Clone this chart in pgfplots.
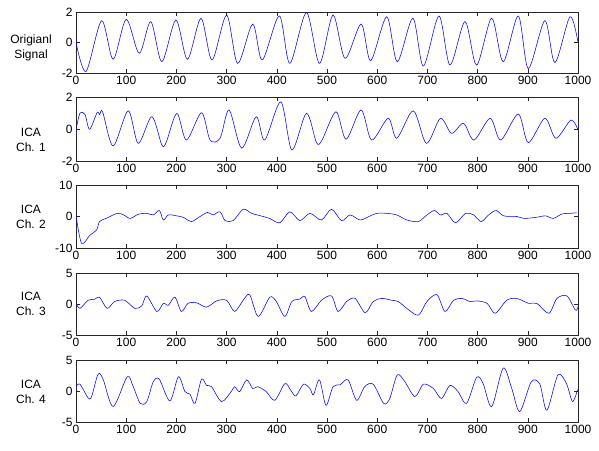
\documentclass[border=0pt]{standalone}
\usepackage{pgfplots}
\pgfplotsset{compat=1.18}
\usepackage{fontspec}
\setmainfont{Liberation Sans}
\definecolor{sig}{RGB}{105,105,235}
\pgfplotsset{
  panel/.style={
    scale only axis, width=502pt,
    xmin=0, xmax=1000, xtick={0,100,...,1000},
    scaled ticks=false,
    /pgf/number format/1000 sep={},
    /pgf/number format/assume math mode=true,
    tick label style={font=\fontsize{12}{12}\selectfont},
    axis line style={black!85}, major tick length=4pt,
    every tick/.style={black!85},
    every axis y label/.style={at={(rel axis cs:0,0.5)}, anchor=center, align=center, xshift=-45pt, font=\fontsize{12}{15}\selectfont},
    every axis plot/.append style={sig, line width=0.55pt, smooth, no marks},
  }
}
\begin{document}
\begin{tikzpicture}
\useasboundingbox (0pt,0pt) rectangle (599pt,-450pt);
% Panel 1
\begin{axis}[panel, at={(76pt,-73pt)}, anchor=south west, height=61pt,
  ymin=-2, ymax=2, ytick={-2,0,2}, ylabel={Origianl\\Signal}, ylabel style={yshift=-5pt}]
\addplot coordinates {(0,0) (20,-1.9) (51,1.43) (74,-1.1) (100,1.52) (126,-0.71) (149,1.37) (171,-1.26) (199,1.48) (222,-1.1) (249,1.59) (271,-1.15) (300,1.8) (322,-1.37) (352,1.21) (371,-1.15) (405,1.74) (426,-1.37) (459,1.96) (485,-1.37) (512,1.8) (536,-1.04) (568,1.21) (587,-1.19) (619,1.69) (640,-1.26) (671,1.59) (692,-1.54) (723,1.74) (745,-1.48) (775,1.37) (798,-1.48) (828,1.59) (851,-1.26) (881,1.74) (901,-1.7) (934,1.43) (954,-1.32) (984,1.69) (1000,0)};
\end{axis}
% Panel 2
\begin{axis}[panel, at={(76pt,-161pt)}, anchor=south west, height=64pt,
  ymin=-2, ymax=2, ytick={-2,0,2}, ylabel={ICA\\Ch. 1}, ylabel style={yshift=-11pt}]
\addplot coordinates {(0,-0.06) (8,1.0) (18,0.9) (27,-0.02) (42,1.02) (47,0.9) (53,1.08) (74,-1.06) (104,1.14) (124,-0.9) (151,0.77) (171,-1.0) (180,-0.8) (201,0.98) (220,-0.69) (250,1.02) (267,-0.69) (287,-0.58) (305,1.19) (330,-1.2) (359,0.77) (376,-0.69) (408,1.7) (430,-1.31) (459,0.98) (479,-0.85) (490,-0.7) (518,1.08) (538,-0.64) (568,1.19) (589,-0.69) (622,0.67) (639,-0.58) (672,1.14) (698,-0.9) (726,0.67) (748,-0.27) (772,0.35) (793,-0.69) (825,0.67) (846,-0.69) (881,0.94) (901,-0.85) (934,0.67) (956,-0.58) (986,0.56) (1000,-0.06)};
\end{axis}
% Panel 3
\begin{axis}[panel, at={(76pt,-248pt)}, anchor=south west, height=63pt,
  ymin=-10, ymax=10, ytick={-10,0,10}, ylabel={ICA\\Ch. 2}]
\addplot coordinates {(0,0.5) (11,-8.5) (28,-5.9) (41,-4.3) (47,-1.6) (60,-0.6) (82,1.0) (95,0.5) (108,-0.6) (124,0.7) (141,1.0) (154,0.5) (166,1.9) (174,-1.1) (184,0.5) (201,0.2) (214,-0.3) (230,-1.6) (247,0) (262,1.3) (273,0.5) (287,1.5) (297,-1.3) (313,-1.3) (333,2.3) (350,1.0) (373,0) (386,-0.6) (406,-2.0) (426,1.5) (446,-1.3) (466,1.0) (489,-1.1) (509,2.3) (529,-1.3) (546,0.5) (566,-1.1) (586,0.2) (599,1.0) (619,1.0) (639,0.5) (659,-1.1) (682,-1.6) (699,0.5) (714,1.9) (726,0.5) (739,1.0) (756,-2.0) (776,1.0) (792,0.5) (807,-1.6) (822,0.5) (837,1.9) (852,0.2) (878,0) (892,-0.6) (915,-0.3) (935,0.2) (951,-0.6) (968,0.8) (985,1.0) (997,1.2)};
\end{axis}
% Panel 4
\begin{axis}[panel, at={(76pt,-335pt)}, anchor=south west, height=62pt,
  ymin=-5, ymax=5, ytick={-5,0,5}, ylabel={ICA\\Ch. 3}]
\addplot coordinates {(0,0.1) (8,-0.7) (24,0.6) (37,0.75) (47,1.1) (62,-0.7) (77,0.4) (97,0.6) (117,-0.7) (131,-0.3) (141,1.3) (161,-1.2) (174,0.1) (184,-0.2) (197,1.1) (210,-1.2) (223,0.1) (240,0.2) (260,-0.5) (280,0.5) (300,0.6) (316,-1.2) (333,0.6) (346,1.5) (363,-2.0) (386,1.1) (399,0.4) (416,-2.0) (430,0.4) (446,0.8) (456,1.2) (469,-1.2) (489,0.6) (509,1.3) (522,-1.2) (539,0.4) (556,0.9) (576,-1.4) (592,0.4) (609,0.9) (629,0.6) (642,0.4) (659,-0.7) (682,-1.8) (699,0.4) (719,1.5) (735,-1.2) (752,0.6) (769,0.9) (785,0.4) (799,0.5) (819,0.1) (835,-1.5) (858,0.6) (878,0.9) (902,0.1) (918,0.1) (942,-1.5) (958,0.9) (978,1.3) (995,-1.0) (1000,-0.4)};
\end{axis}
% Panel 5
\begin{axis}[panel, at={(76pt,-422pt)}, anchor=south west, height=62pt,
  ymin=-5, ymax=5, ytick={-5,0,5}, ylabel={ICA\\Ch. 4}, ylabel style={yshift=-1pt}]
\addplot coordinates {(0,0.7) (8,1.1) (24,-1.1) (31,-0.9) (44,2.7) (54,1.9) (74,-2.5) (102,2.3) (114,0.7) (128,-2.0) (141,-1.7) (154,1.5) (166,1.9) (187,-1.6) (204,2.3) (217,-0.1) (227,-0.5) (237,-2.0) (250,1.9) (260,0.9) (270,0.7) (290,-1.7) (310,0) (316,0.7) (326,-0.1) (340,1.8) (352,0.4) (362,0.7) (379,-0.1) (396,-1.5) (416,1.2) (428,0.1) (438,-0.8) (453,1.1) (466,0.4) (473,-0.6) (485,1.8) (498,-2.3) (512,0.7) (526,1.0) (542,1.8) (559,-1.5) (575,0.7) (592,1.1) (613,-2.0) (625,-1.2) (640,2.6) (655,1.5) (675,-0.9) (692,1.1) (712,0.4) (728,-1.2) (745,0.9) (761,-0.1) (778,-2.0) (798,2.2) (811,1.2) (828,-2.5) (851,3.7) (868,0.4) (884,-3.3) (907,1.5) (924,1.1) (938,-3.1) (960,2.6) (977,1.2) (989,-1.7) (999,0.2)};
\end{axis}
\end{tikzpicture}
\end{document}
